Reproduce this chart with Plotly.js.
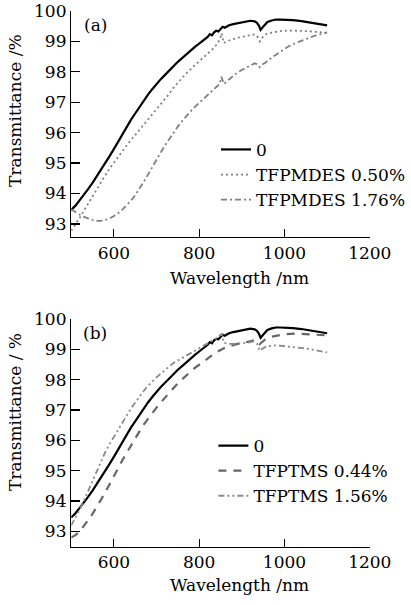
<!DOCTYPE html>
<html>
<head>
<meta charset="utf-8">
<script src="https://cdn.plot.ly/plotly-3.0.1.min.js"></script>
<style>html,body{margin:0;padding:0;background:#fff;}#chart{width:411px;height:605px;}</style>
</head>
<body>
<div id="chart"></div>
<script>
// ---- data ----
const wl0 = [500,510,520,530,540,550,560,570,580,590,600,610,620,630,640,650,660,670,680,690,700,710,720,730,740,750,760,770,780,790,800,810,820,825,830,835,840,845,850,855,860,870,880,890,900,910,920,930,935,940,944,948,955,960,970,980,990,1000,1020,1040,1060,1080,1100];
const t0 = [93.46,93.6,93.78,93.95,94.15,94.35,94.56,94.78,95.0,95.23,95.46,95.71,95.95,96.18,96.42,96.63,96.85,97.05,97.25,97.43,97.6,97.76,97.9,98.05,98.2,98.33,98.45,98.58,98.7,98.82,98.93,99.04,99.15,99.24,99.2,99.3,99.35,99.33,99.42,99.48,99.45,99.53,99.57,99.6,99.63,99.66,99.68,99.66,99.62,99.52,99.38,99.45,99.58,99.64,99.69,99.72,99.72,99.72,99.7,99.67,99.63,99.58,99.53];

const wlA1 = [500,510,520,530,540,550,560,570,580,590,600,610,620,630,640,650,660,670,680,690,700,710,720,730,740,750,760,770,780,790,800,810,820,830,840,848,853,857,870,880,890,900,910,920,930,936,942,948,955,970,990,1010,1030,1050,1070,1085,1100];
const tA1 = [92.78,92.98,93.2,93.44,93.68,93.92,94.15,94.38,94.6,94.82,95.02,95.22,95.4,95.58,95.75,95.92,96.08,96.25,96.42,96.58,96.75,96.92,97.1,97.28,97.48,97.65,97.8,97.95,98.1,98.22,98.35,98.47,98.6,98.72,98.88,99.05,99.27,98.95,99.03,99.08,99.12,99.15,99.18,99.21,99.23,99.18,99.0,99.12,99.23,99.29,99.34,99.36,99.36,99.34,99.32,99.3,99.28];

const wlA2 = [500,510,520,530,540,550,560,570,580,590,600,610,620,630,640,650,660,670,680,690,700,710,720,730,740,750,760,770,780,790,800,810,820,830,840,848,852,855,858,870,880,890,900,910,920,930,936,942,948,955,970,990,1010,1030,1050,1070,1085,1100];
const tA2 = [93.48,93.38,93.3,93.23,93.17,93.13,93.1,93.1,93.13,93.18,93.26,93.35,93.47,93.6,93.76,93.94,94.15,94.38,94.62,94.88,95.12,95.35,95.58,95.8,96.02,96.2,96.38,96.55,96.7,96.85,96.98,97.12,97.26,97.38,97.5,97.6,97.84,97.68,97.6,97.75,97.88,97.98,98.06,98.14,98.22,98.28,98.25,98.15,98.24,98.3,98.47,98.67,98.84,98.97,99.08,99.18,99.24,99.3];

const wlB1 = [500,510,520,530,540,550,560,570,580,590,600,610,620,630,640,650,660,670,680,690,700,710,720,730,740,750,760,770,780,790,800,810,820,830,840,850,860,870,880,890,900,910,920,930,936,942,948,955,970,985,1000,1030,1060,1080,1100];
const tB1 = [92.8,92.88,93.0,93.18,93.38,93.58,93.8,94.05,94.3,94.55,94.8,95.08,95.35,95.6,95.85,96.08,96.3,96.52,96.72,96.9,97.08,97.25,97.42,97.58,97.73,97.88,98.02,98.15,98.27,98.39,98.5,98.6,98.7,98.8,98.9,98.98,99.05,99.1,99.15,99.18,99.2,99.23,99.27,99.3,99.27,99.17,99.25,99.33,99.42,99.47,99.5,99.52,99.5,99.48,99.46];

const wlB2 = [500,510,520,530,540,550,560,570,580,590,600,610,620,630,640,650,660,670,680,690,700,710,720,730,740,750,760,770,780,790,800,810,820,830,840,848,853,857,870,880,900,915,928,936,942,948,958,975,990,1010,1030,1050,1070,1085,1100];
const tB2 = [93.2,93.45,93.72,94.02,94.35,94.68,95.0,95.32,95.62,95.88,96.12,96.36,96.6,96.83,97.05,97.25,97.45,97.63,97.8,97.95,98.08,98.2,98.33,98.44,98.55,98.63,98.7,98.8,98.88,98.96,99.03,99.12,99.2,99.28,99.36,99.45,99.52,99.22,99.18,99.18,99.2,99.22,99.26,99.18,98.95,99.02,99.1,99.13,99.12,99.1,99.06,99.03,98.98,98.94,98.9];

const namesA = ['0', 'TFPMDES 0.50%', 'TFPMDES 1.76%'];
const namesB = ['0', 'TFPTMS 0.44%', 'TFPTMS 1.56%'];
const xTicks = [600, 800, 1000, 1200];
const yTicks = [93, 94, 95, 96, 97, 98, 99, 100];

// ---- chart ----
const FONT = 'DejaVu Serif, serif';
const traces = [
  {x: wl0, y: t0, name: namesA[0], xaxis: 'x', yaxis: 'y', legend: 'legend', mode: 'lines', line: {color: '#000', width: 2.2}},
  {x: wlA1, y: tA1, name: namesA[1], xaxis: 'x', yaxis: 'y', legend: 'legend', mode: 'lines', line: {color: '#808080', width: 1.8, dash: '2px,3px'}},
  {x: wlA2, y: tA2, name: namesA[2], xaxis: 'x', yaxis: 'y', legend: 'legend', mode: 'lines', line: {color: '#808080', width: 1.8, dash: '6px,3px,2px,3px'}},
  {x: wl0, y: t0, name: namesB[0], xaxis: 'x2', yaxis: 'y2', legend: 'legend2', mode: 'lines', line: {color: '#000', width: 2.2}},
  {x: wlB1, y: tB1, name: namesB[1], xaxis: 'x2', yaxis: 'y2', legend: 'legend2', mode: 'lines', line: {color: '#666', width: 2.2, dash: '8px,7px'}},
  {x: wlB2, y: tB2, name: namesB[2], xaxis: 'x2', yaxis: 'y2', legend: 'legend2', mode: 'lines', line: {color: '#8a8a8a', width: 1.8, dash: '6px,3px,2px,3px,2px,3px'}}
];

function xa(anchor) {
  return {
    anchor: anchor, domain: [0.1745, 0.9063], range: [500, 1200],
    tickmode: 'array', tickvals: xTicks, ticks: 'inside', ticklen: 8, tickwidth: 1.3, tickcolor: '#000',
    showline: true, linecolor: '#000', linewidth: 1.3, showgrid: false, zeroline: false,
    tickfont: {family: FONT, size: 17, color: '#000'}
  };
}
function ya(anchor, dom, lo) {
  return {
    anchor: anchor, domain: dom, range: [lo, 100],
    tickmode: 'array', tickvals: yTicks, ticks: 'inside', ticklen: 9, tickwidth: 1.3, tickcolor: '#000',
    showline: true, linecolor: '#000', linewidth: 1.3, showgrid: false, zeroline: false,
    tickfont: {family: FONT, size: 17, color: '#000'}
  };
}
const legendBase = {
  xanchor: 'left', yanchor: 'top', bgcolor: 'rgba(0,0,0,0)', borderwidth: 0,
  font: {family: FONT, size: 17, color: '#000'}, itemwidth: 30, tracegroupgap: 0
};

const ann = (text, x, y, extra) => Object.assign({
  text: text, x: x, y: y, xref: 'paper', yref: 'paper', showarrow: false,
  xanchor: 'center', yanchor: 'middle', font: {family: FONT, size: 17, color: '#000'}
}, extra || {});

const layout = {
  width: 411, height: 605,
  margin: {l: 0, r: 0, t: 0, b: 0},
  paper_bgcolor: '#fff', plot_bgcolor: '#fff',
  showlegend: true,
  xaxis: xa('y'), yaxis: ya('x', [0.6083, 0.9818], 92.57),
  xaxis2: xa('y2'), yaxis2: ya('x2', [0.0964, 0.4727], 92.5),
  legend: Object.assign({x: 0.53, y: 0.782}, legendBase),
  legend2: Object.assign({x: 0.523, y: 0.2926}, legendBase),
  annotations: [
    ann('(a)', 0.2336, 0.9587),
    ann('(b)', 0.2336, 0.4496),
    ann('Transmittance /%', 0.0365, 0.8165, {textangle: -90}),
    ann('Transmittance / %', 0.0365, 0.319, {textangle: -90}),
    ann('Wavelength /nm', 0.5864, 0.5405),
    ann('Wavelength /nm', 0.5864, 0.0331)
  ]
};

Plotly.newPlot('chart', traces, layout, {displayModeBar: false, staticPlot: true});
</script>
</body>
</html>
